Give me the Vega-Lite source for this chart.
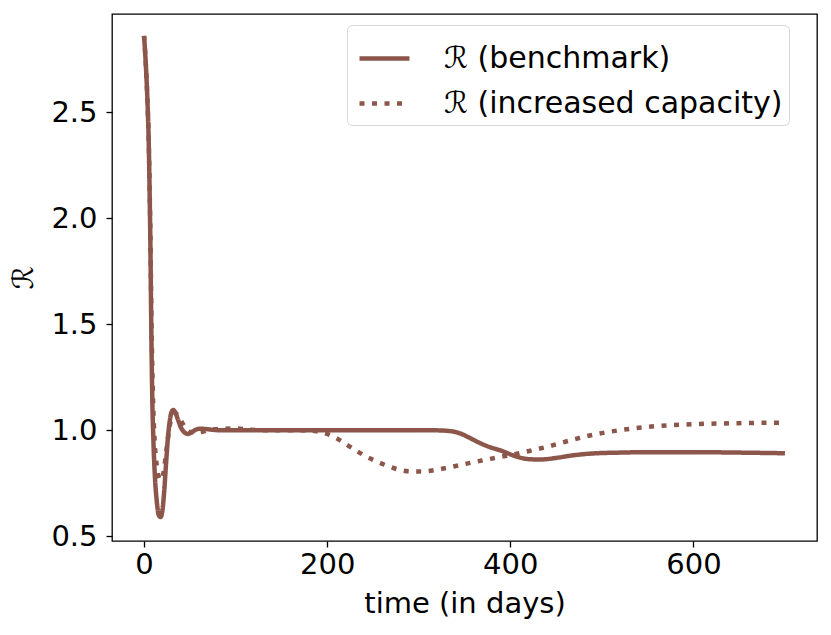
{
  "$schema": "https://vega.github.io/schema/vega-lite/v6.json",
  "width": 705,
  "height": 527,
  "autosize": {"type": "none"},
  "padding": {"left": 112, "top": 14, "right": 14, "bottom": 94},
  "background": "white",
  "config": {
    "view": {"stroke": "black", "strokeWidth": 1.3},
    "font": "DejaVu Sans",
    "axis": {
      "grid": false,
      "domain": false,
      "tickColor": "black",
      "tickWidth": 1.3,
      "tickSize": 6,
      "labelFont": "DejaVu Sans",
      "labelFontSize": 29,
      "labelColor": "black",
      "titleFont": "DejaVu Sans",
      "titleFontSize": 29,
      "titleFontWeight": "normal",
      "titleColor": "black"
    }
  },
  "datasets": {
    "curves": [
      {"t": 0, "R": 2.86, "series": "ℛ (benchmark)"},
      {"t": 2, "R": 2.72, "series": "ℛ (benchmark)"},
      {"t": 4, "R": 2.52, "series": "ℛ (benchmark)"},
      {"t": 5, "R": 2.38, "series": "ℛ (benchmark)"},
      {"t": 6, "R": 2.15, "series": "ℛ (benchmark)"},
      {"t": 7, "R": 1.85, "series": "ℛ (benchmark)"},
      {"t": 8, "R": 1.45, "series": "ℛ (benchmark)"},
      {"t": 9, "R": 1.15, "series": "ℛ (benchmark)"},
      {"t": 10, "R": 0.98, "series": "ℛ (benchmark)"},
      {"t": 11, "R": 0.86, "series": "ℛ (benchmark)"},
      {"t": 12, "R": 0.77, "series": "ℛ (benchmark)"},
      {"t": 14, "R": 0.66, "series": "ℛ (benchmark)"},
      {"t": 16, "R": 0.6, "series": "ℛ (benchmark)"},
      {"t": 18, "R": 0.59, "series": "ℛ (benchmark)"},
      {"t": 20, "R": 0.62, "series": "ℛ (benchmark)"},
      {"t": 22, "R": 0.71, "series": "ℛ (benchmark)"},
      {"t": 24, "R": 0.84, "series": "ℛ (benchmark)"},
      {"t": 26, "R": 0.96, "series": "ℛ (benchmark)"},
      {"t": 28, "R": 1.04, "series": "ℛ (benchmark)"},
      {"t": 30, "R": 1.085, "series": "ℛ (benchmark)"},
      {"t": 32, "R": 1.095, "series": "ℛ (benchmark)"},
      {"t": 34, "R": 1.085, "series": "ℛ (benchmark)"},
      {"t": 37, "R": 1.05, "series": "ℛ (benchmark)"},
      {"t": 40, "R": 1.015, "series": "ℛ (benchmark)"},
      {"t": 44, "R": 0.99, "series": "ℛ (benchmark)"},
      {"t": 48, "R": 0.982, "series": "ℛ (benchmark)"},
      {"t": 52, "R": 0.99, "series": "ℛ (benchmark)"},
      {"t": 57, "R": 1.003, "series": "ℛ (benchmark)"},
      {"t": 62, "R": 1.007, "series": "ℛ (benchmark)"},
      {"t": 70, "R": 1.004, "series": "ℛ (benchmark)"},
      {"t": 80, "R": 1.0, "series": "ℛ (benchmark)"},
      {"t": 100, "R": 1.0, "series": "ℛ (benchmark)"},
      {"t": 150, "R": 1.0, "series": "ℛ (benchmark)"},
      {"t": 200, "R": 1.0, "series": "ℛ (benchmark)"},
      {"t": 250, "R": 1.0, "series": "ℛ (benchmark)"},
      {"t": 300, "R": 1.0, "series": "ℛ (benchmark)"},
      {"t": 320, "R": 0.999, "series": "ℛ (benchmark)"},
      {"t": 335, "R": 0.995, "series": "ℛ (benchmark)"},
      {"t": 345, "R": 0.985, "series": "ℛ (benchmark)"},
      {"t": 355, "R": 0.965, "series": "ℛ (benchmark)"},
      {"t": 365, "R": 0.943, "series": "ℛ (benchmark)"},
      {"t": 375, "R": 0.924, "series": "ℛ (benchmark)"},
      {"t": 390, "R": 0.903, "series": "ℛ (benchmark)"},
      {"t": 405, "R": 0.878, "series": "ℛ (benchmark)"},
      {"t": 415, "R": 0.866, "series": "ℛ (benchmark)"},
      {"t": 425, "R": 0.862, "series": "ℛ (benchmark)"},
      {"t": 435, "R": 0.862, "series": "ℛ (benchmark)"},
      {"t": 450, "R": 0.869, "series": "ℛ (benchmark)"},
      {"t": 470, "R": 0.882, "series": "ℛ (benchmark)"},
      {"t": 490, "R": 0.89, "series": "ℛ (benchmark)"},
      {"t": 520, "R": 0.894, "series": "ℛ (benchmark)"},
      {"t": 550, "R": 0.896, "series": "ℛ (benchmark)"},
      {"t": 600, "R": 0.896, "series": "ℛ (benchmark)"},
      {"t": 650, "R": 0.894, "series": "ℛ (benchmark)"},
      {"t": 700, "R": 0.891, "series": "ℛ (benchmark)"},
      {"t": 0, "R": 2.86, "series": "ℛ (increased capacity)"},
      {"t": 2, "R": 2.72, "series": "ℛ (increased capacity)"},
      {"t": 4, "R": 2.52, "series": "ℛ (increased capacity)"},
      {"t": 5, "R": 2.38, "series": "ℛ (increased capacity)"},
      {"t": 6, "R": 2.17, "series": "ℛ (increased capacity)"},
      {"t": 7, "R": 1.9, "series": "ℛ (increased capacity)"},
      {"t": 8, "R": 1.55, "series": "ℛ (increased capacity)"},
      {"t": 9, "R": 1.3, "series": "ℛ (increased capacity)"},
      {"t": 10, "R": 1.12, "series": "ℛ (increased capacity)"},
      {"t": 11, "R": 1.0, "series": "ℛ (increased capacity)"},
      {"t": 12, "R": 0.92, "series": "ℛ (increased capacity)"},
      {"t": 14, "R": 0.83, "series": "ℛ (increased capacity)"},
      {"t": 16, "R": 0.78, "series": "ℛ (increased capacity)"},
      {"t": 18, "R": 0.765, "series": "ℛ (increased capacity)"},
      {"t": 20, "R": 0.775, "series": "ℛ (increased capacity)"},
      {"t": 22, "R": 0.82, "series": "ℛ (increased capacity)"},
      {"t": 24, "R": 0.89, "series": "ℛ (increased capacity)"},
      {"t": 26, "R": 0.96, "series": "ℛ (increased capacity)"},
      {"t": 28, "R": 1.02, "series": "ℛ (increased capacity)"},
      {"t": 31, "R": 1.065, "series": "ℛ (increased capacity)"},
      {"t": 34, "R": 1.08, "series": "ℛ (increased capacity)"},
      {"t": 37, "R": 1.07, "series": "ℛ (increased capacity)"},
      {"t": 41, "R": 1.04, "series": "ℛ (increased capacity)"},
      {"t": 46, "R": 1.005, "series": "ℛ (increased capacity)"},
      {"t": 52, "R": 0.99, "series": "ℛ (increased capacity)"},
      {"t": 60, "R": 0.99, "series": "ℛ (increased capacity)"},
      {"t": 70, "R": 1.0, "series": "ℛ (increased capacity)"},
      {"t": 85, "R": 1.006, "series": "ℛ (increased capacity)"},
      {"t": 100, "R": 1.008, "series": "ℛ (increased capacity)"},
      {"t": 115, "R": 1.003, "series": "ℛ (increased capacity)"},
      {"t": 130, "R": 1.0, "series": "ℛ (increased capacity)"},
      {"t": 160, "R": 1.0, "series": "ℛ (increased capacity)"},
      {"t": 180, "R": 0.998, "series": "ℛ (increased capacity)"},
      {"t": 190, "R": 0.993, "series": "ℛ (increased capacity)"},
      {"t": 200, "R": 0.982, "series": "ℛ (increased capacity)"},
      {"t": 210, "R": 0.962, "series": "ℛ (increased capacity)"},
      {"t": 220, "R": 0.935, "series": "ℛ (increased capacity)"},
      {"t": 230, "R": 0.908, "series": "ℛ (increased capacity)"},
      {"t": 240, "R": 0.882, "series": "ℛ (increased capacity)"},
      {"t": 252, "R": 0.856, "series": "ℛ (increased capacity)"},
      {"t": 265, "R": 0.833, "series": "ℛ (increased capacity)"},
      {"t": 277, "R": 0.815, "series": "ℛ (increased capacity)"},
      {"t": 290, "R": 0.806, "series": "ℛ (increased capacity)"},
      {"t": 305, "R": 0.805, "series": "ℛ (increased capacity)"},
      {"t": 318, "R": 0.812, "series": "ℛ (increased capacity)"},
      {"t": 332, "R": 0.823, "series": "ℛ (increased capacity)"},
      {"t": 345, "R": 0.835, "series": "ℛ (increased capacity)"},
      {"t": 359, "R": 0.848, "series": "ℛ (increased capacity)"},
      {"t": 373, "R": 0.86, "series": "ℛ (increased capacity)"},
      {"t": 387, "R": 0.872, "series": "ℛ (increased capacity)"},
      {"t": 400, "R": 0.882, "series": "ℛ (increased capacity)"},
      {"t": 412, "R": 0.893, "series": "ℛ (increased capacity)"},
      {"t": 425, "R": 0.906, "series": "ℛ (increased capacity)"},
      {"t": 440, "R": 0.921, "series": "ℛ (increased capacity)"},
      {"t": 460, "R": 0.945, "series": "ℛ (increased capacity)"},
      {"t": 480, "R": 0.968, "series": "ℛ (increased capacity)"},
      {"t": 500, "R": 0.986, "series": "ℛ (increased capacity)"},
      {"t": 520, "R": 1.0, "series": "ℛ (increased capacity)"},
      {"t": 540, "R": 1.011, "series": "ℛ (increased capacity)"},
      {"t": 560, "R": 1.019, "series": "ℛ (increased capacity)"},
      {"t": 585, "R": 1.025, "series": "ℛ (increased capacity)"},
      {"t": 615, "R": 1.03, "series": "ℛ (increased capacity)"},
      {"t": 650, "R": 1.033, "series": "ℛ (increased capacity)"},
      {"t": 700, "R": 1.035, "series": "ℛ (increased capacity)"}
    ]
  },
  "layer": [
    {
      "data": {"name": "curves"},
      "mark": {"type": "line", "color": "#8c564b", "strokeWidth": 4.5, "strokeCap": "butt", "interpolate": "monotone"},
      "encoding": {
        "x": {
          "field": "t",
          "type": "quantitative",
          "title": "time (in days)",
          "scale": {"domain": [-35, 735], "nice": false, "zero": false},
          "axis": {"values": [0, 200, 400, 600], "labelPadding": 3, "titlePadding": 10}
        },
        "y": {
          "field": "R",
          "type": "quantitative",
          "title": "ℛ",
          "scale": {"domain": [0.477, 2.963], "nice": false, "zero": false},
          "axis": {"values": [0.5, 1.0, 1.5, 2.0, 2.5], "format": ".1f", "labelPadding": 9, "titlePadding": 12}
        },
        "strokeDash": {
          "field": "series",
          "type": "nominal",
          "sort": ["ℛ (benchmark)", "ℛ (increased capacity)"],
          "scale": {"domain": ["ℛ (benchmark)", "ℛ (increased capacity)"], "range": [[1, 0], [5, 7.5]]},
          "legend": {
            "orient": "none",
            "legendX": 235,
            "legendY": 11,
            "title": null,
            "symbolType": "stroke",
            "symbolSize": 2500,
            "symbolOffset": 4,
            "symbolStrokeWidth": 4.5,
            "symbolStrokeColor": "#8c564b",
            "labelFont": "DejaVu Sans",
            "labelFontSize": 30,
            "labelColor": "black",
            "labelOffset": 32,
            "labelLimit": 600,
            "padding": 6,
            "rowPadding": 2,
            "fillColor": "white",
            "strokeColor": "#d6d6d6",
            "cornerRadius": 5
          }
        }
      }
    },
    {
      "mark": {"type": "rule", "color": "black", "strokeWidth": 1.3},
      "encoding": {"y": {"datum": 1}}
    }
  ]
}
